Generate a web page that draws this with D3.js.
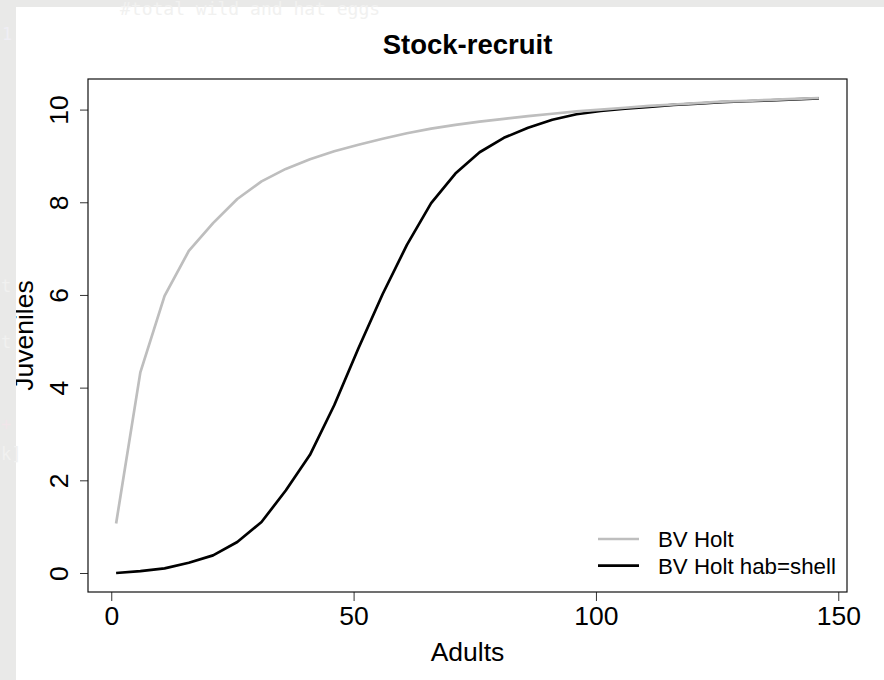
<!DOCTYPE html>
<html>
<head>
<meta charset="utf-8">
<script src="https://cdn.jsdelivr.net/npm/d3@7"></script>
<style>
  html, body { margin: 0; padding: 0; background: #e9e9e8; }
  svg { display: block; }
</style>
</head>
<body>
<svg id="chart" width="884" height="680"></svg>
<script>
// Adult stock sizes (x) shared by both curves
const adults = [1, 6, 11, 16, 21, 26, 31, 36, 41, 46, 51, 56, 61, 66, 71,
                76, 81, 86, 91, 96, 101, 106, 111, 116, 121, 126, 131, 136, 141, 146];

// Juveniles predicted by the plain Beverton-Holt fit
const bvHolt = [1.07, 4.33, 5.98, 6.95, 7.55, 8.07, 8.45, 8.72, 8.93, 9.10,
                9.24, 9.37, 9.49, 9.59, 9.67, 9.74, 9.80, 9.86, 9.91, 9.96,
                10.00, 10.04, 10.08, 10.11, 10.14, 10.17, 10.19, 10.21, 10.23, 10.25];

// Juveniles predicted with the shell-habitat term
const bvHoltShell = [0.00, 0.04, 0.10, 0.22, 0.38, 0.67, 1.10, 1.78, 2.55, 3.62,
                     4.85, 6.02, 7.08, 7.98, 8.62, 9.08, 9.39, 9.61, 9.78, 9.90,
                     9.97, 10.02, 10.06, 10.10, 10.13, 10.16, 10.18, 10.20, 10.22, 10.24];

const xTicks = [0, 50, 100, 150];
const yTicks = [0, 2, 4, 6, 8, 10];
const seriesNames = ["BV Holt", "BV Holt hab=shell"];
const seriesColors = ["#bebebe", "#000000"];

const svg = d3.select("#chart");
const font = "'Liberation Sans', Arial, Helvetica, sans-serif";

// Console text peeking around the graphics window
svg.append("rect").attr("x", 0).attr("y", 0).attr("width", 884).attr("height", 680).attr("fill", "#e9e9e8");
const bg = svg.append("g").attr("font-family", "'DejaVu Sans Mono', monospace").attr("font-size", 17).attr("fill", "#f1f1f0");
bg.append("text").attr("x", 120).attr("y", 15).attr("font-size", 18).text("#total wild and hat eggs");
bg.append("text").attr("x", 2).attr("y", 40).attr("fill", "#efeef4").text("1");
bg.append("text").attr("x", 1).attr("y", 292).text("t");
bg.append("text").attr("x", 1).attr("y", 348).text("t");
bg.append("text").attr("x", 1).attr("y", 430).attr("fill", "#f1e6ea").text("+");
bg.append("text").attr("x", 1).attr("y", 460).text("k]");

// White graphics device
svg.append("rect").attr("x", 16).attr("y", 7).attr("width", 868).attr("height", 673).attr("fill", "#ffffff");

const plot = { left: 88, right: 847, top: 79, bottom: 592 };

// Data range padded by 4% on each side
function padded(values) {
  const [lo, hi] = d3.extent(values);
  const pad = (hi - lo) * 0.04;
  return [lo - pad, hi + pad];
}
const x = d3.scaleLinear().domain(padded(adults)).range([plot.left, plot.right]);
const y = d3.scaleLinear().domain(padded(bvHolt.concat(bvHoltShell))).range([plot.bottom, plot.top]);

// Curves: shell-habitat first, plain fit on top
const line = d3.line().x((d, i) => x(adults[i])).y(d => y(d));
[[bvHoltShell, seriesColors[1]], [bvHolt, seriesColors[0]]].forEach(([vals, col]) => {
  svg.append("path")
    .datum(vals)
    .attr("d", line)
    .attr("fill", "none")
    .attr("stroke", col)
    .attr("stroke-width", 2.7)
    .attr("stroke-linejoin", "round")
    .attr("stroke-linecap", "butt");
});

// X axis
const xAxis = svg.append("g")
  .attr("transform", `translate(0,${plot.bottom})`)
  .call(d3.axisBottom(x).tickValues(xTicks).tickSize(9).tickFormat(d3.format("d")));
xAxis.select(".domain").remove();
xAxis.selectAll(".tick line").attr("stroke", "#333").attr("stroke-width", 1);
xAxis.selectAll(".tick text")
  .attr("y", 33).attr("dy", null)
  .attr("fill", "#000").attr("font-family", font).attr("font-size", 26.5);

// Y axis with labels running parallel to the axis
const yAxis = svg.append("g")
  .attr("transform", `translate(${plot.left},0)`)
  .call(d3.axisLeft(y).tickValues(yTicks).tickSize(8).tickFormat(d3.format("d")));
yAxis.select(".domain").remove();
yAxis.selectAll(".tick line").attr("stroke", "#333").attr("stroke-width", 1);
yAxis.selectAll(".tick text")
  .attr("x", null).attr("dy", null)
  .attr("text-anchor", "middle")
  .attr("transform", "translate(-20,0) rotate(-90)")
  .attr("fill", "#000").attr("font-family", font).attr("font-size", 26.5);

// Plot frame
svg.append("rect")
  .attr("x", plot.left).attr("y", plot.top)
  .attr("width", plot.right - plot.left).attr("height", plot.bottom - plot.top)
  .attr("fill", "none").attr("stroke", "#111").attr("stroke-width", 1.2);

// Titles
svg.append("text")
  .attr("x", (plot.left + plot.right) / 2).attr("y", 54)
  .attr("text-anchor", "middle").attr("font-family", font)
  .attr("font-weight", "bold").attr("font-size", 27.5)
  .text("Stock-recruit");
svg.append("text")
  .attr("x", (plot.left + plot.right) / 2).attr("y", 661)
  .attr("text-anchor", "middle").attr("font-family", font).attr("font-size", 26.5)
  .text("Adults");
svg.append("text")
  .attr("transform", `translate(33,${(plot.top + plot.bottom) / 2}) rotate(-90)`)
  .attr("text-anchor", "middle").attr("font-family", font).attr("font-size", 26.5)
  .text("Juveniles");

// Re-draw the console strip over the label edge
svg.append("rect").attr("x", 0).attr("y", 250).attr("width", 16).attr("height", 170).attr("fill", "#e9e9e8");
bg.raise();

// Legend
const legend = svg.append("g");
seriesNames.forEach((name, i) => {
  const yy = 539 + i * 26.7;
  legend.append("line")
    .attr("x1", 598).attr("x2", 639).attr("y1", yy).attr("y2", yy)
    .attr("stroke", seriesColors[i]).attr("stroke-width", 2.7);
  legend.append("text")
    .attr("x", 658).attr("y", yy + 8.3)
    .attr("font-family", font).attr("font-size", 22.3)
    .text(name);
});
</script>
</body>
</html>
